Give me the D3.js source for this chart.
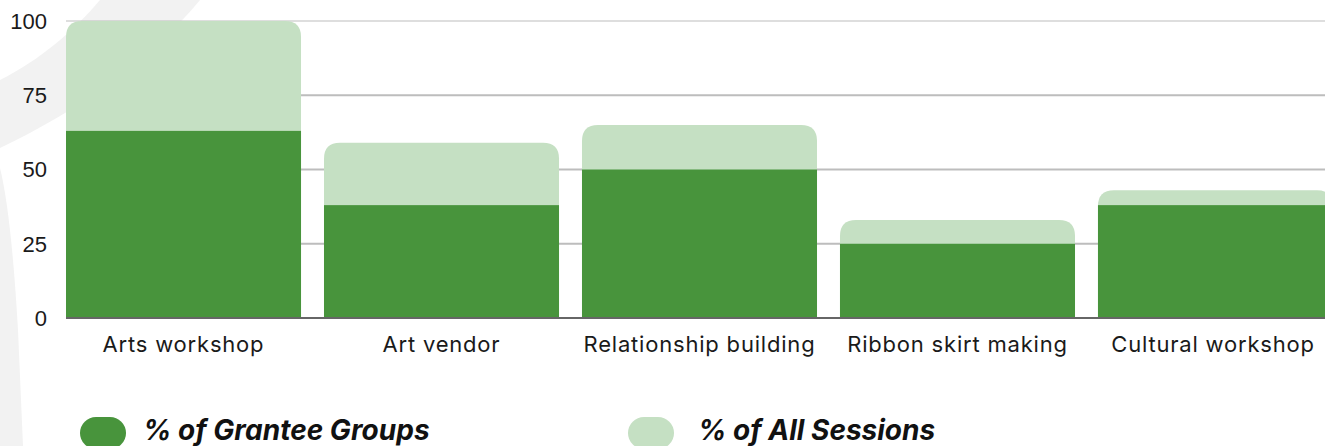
<!DOCTYPE html>
<html>
<head>
<meta charset="utf-8">
<script src="https://cdn.jsdelivr.net/npm/d3@7"></script>
<style>
  body { margin: 0; background: #fff; overflow: hidden; }
  svg { display: block; }
  .ytick { font-family: "Liberation Sans", Arial, sans-serif; font-size: 22px; fill: #1a1a1a; }
  .xlab { font-family: Inter, Roboto, sans-serif; font-size: 22px; letter-spacing: 0.8px; fill: #1a1a1a; }
  .leg { font-family: Inter, Roboto, sans-serif; font-size: 28px; font-weight: 700; font-style: italic; fill: #111; }
</style>
</head>
<body>
<svg width="1325" height="446"></svg>
<script>
// data
const categories = ["Arts workshop", "Art vendor", "Relationship building", "Ribbon skirt making", "Cultural workshop"];
const granteeGroups = [63, 38, 50, 25, 38];   // % of Grantee Groups (dark)
const allSessions = [100, 59, 65, 33, 43];    // % of All Sessions (light)
const yTicks = [0, 25, 50, 75, 100];
const seriesNames = ["% of Grantee Groups", "% of All Sessions"];

const dark = "#48943c", light = "#c5e0c3";

const svg = d3.select("svg");
const W = 1325, H = 446;

// faint decorative swoosh in the background
const bg = svg.append("g").attr("fill", "#f2f2f2");
bg.append("path").attr("d", "M100,0 L200,0 C150,60 80,110 0,148 L0,80 C40,60 75,30 100,0 Z");
bg.append("path").attr("d", "M0,168 C8,200 14,260 18,330 L23,446 L0,446 Z");

const plotLeft = 66, plotRight = 1333, plotTop = 21, plotBottom = 318;

const x = d3.scaleBand()
  .domain(categories)
  .range([plotLeft, plotRight])
  .paddingInner(0.089)
  .paddingOuter(0);

const y = d3.scaleLinear()
  .domain([0, 100])
  .range([plotBottom, plotTop]);

// gridlines
svg.append("g")
  .selectAll("line")
  .data(yTicks.filter(d => d > 0))
  .enter().append("line")
  .attr("x1", plotLeft).attr("x2", W)
  .attr("y1", d => y(d)).attr("y2", d => y(d))
  .attr("stroke", "#bdbdbd")
  .attr("stroke-width", d => d === 100 ? 1 : 2);

// y tick labels
svg.append("g")
  .selectAll("text")
  .data(yTicks)
  .enter().append("text")
  .attr("class", "ytick")
  .attr("x", 47)
  .attr("y", d => y(d))
  .attr("dy", "0.36em")
  .attr("text-anchor", "end")
  .text(d => d);

// rounded-top bar path
function topRounded(x0, y0, w, h, r) {
  r = Math.min(r, h, w / 2);
  return `M${x0},${y0 + h} L${x0},${y0 + r} Q${x0},${y0} ${x0 + r},${y0} ` +
    `L${x0 + w - r},${y0} Q${x0 + w},${y0} ${x0 + w},${y0 + r} L${x0 + w},${y0 + h} Z`;
}

// light bars (all sessions) behind
svg.append("g")
  .selectAll("path")
  .data(categories)
  .enter().append("path")
  .attr("fill", light)
  .attr("d", (c, i) => topRounded(x(c), y(allSessions[i]), x.bandwidth(), plotBottom - y(allSessions[i]), 16));

// dark bars (grantee groups) in front
svg.append("g")
  .selectAll("rect")
  .data(categories)
  .enter().append("rect")
  .attr("fill", dark)
  .attr("x", c => x(c))
  .attr("width", x.bandwidth())
  .attr("y", (c, i) => y(granteeGroups[i]))
  .attr("height", (c, i) => plotBottom - y(granteeGroups[i]));

// baseline
svg.append("line")
  .attr("x1", plotLeft).attr("x2", W)
  .attr("y1", plotBottom).attr("y2", plotBottom)
  .attr("stroke", "#666").attr("stroke-width", 2);

// category labels
svg.append("g")
  .selectAll("text")
  .data(categories)
  .enter().append("text")
  .attr("class", "xlab")
  .attr("x", c => Math.min(x(c) + x.bandwidth() / 2, 1213))
  .attr("y", 352)
  .attr("text-anchor", "middle")
  .text(c => c);

// legend
const legX = [80, 628];
const leg = svg.append("g")
  .selectAll("g")
  .data(seriesNames)
  .enter().append("g")
  .attr("transform", (d, i) => `translate(${legX[i]},417)`);
leg.append("rect")
  .attr("width", 46).attr("height", 32).attr("rx", 16)
  .attr("fill", (d, i) => i === 0 ? dark : light);
leg.append("text")
  .attr("class", "leg")
  .attr("x", (d, i) => i === 0 ? 63 : 70)
  .attr("y", 23)
  .text(d => d);
</script>
</body>
</html>
